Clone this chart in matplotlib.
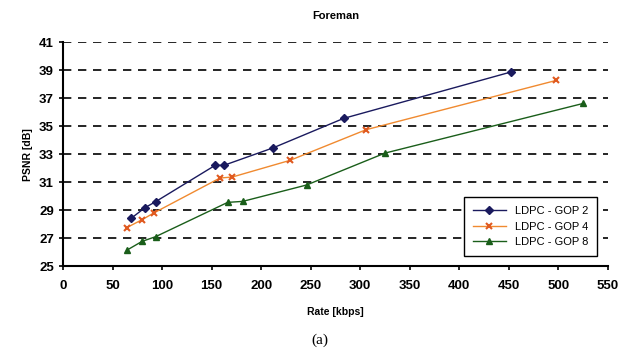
import matplotlib
matplotlib.use("Agg")
from matplotlib import pyplot as plt

# GOP 2
rate_gop2 = [68.6, 82.7, 93.5, 153.4, 162.5, 212.2, 283.2, 451.8]
psnr_gop2 = [28.40, 29.17, 29.60, 32.19, 32.20, 33.45, 35.55, 38.86]

# GOP 4
rate_gop4 = [64.2, 79.7, 92.1, 158.4, 170.8, 229.0, 305.8, 497.5]
psnr_gop4 = [27.74, 28.31, 28.81, 31.29, 31.36, 32.55, 34.74, 38.26]

# GOP 8
rate_gop8 = [64.6, 79.7, 93.5, 166.2, 181.3, 245.8, 324.9, 525.0]
psnr_gop8 = [26.14, 26.76, 27.10, 29.55, 29.62, 30.79, 33.07, 36.62]

labels = ["LDPC - GOP 2", "LDPC - GOP 4", "LDPC - GOP 8"]
x_ticks = list(range(0, 551, 50))
y_ticks = list(range(25, 42, 2))

plt.rcParams['font.family'] = ['Liberation Sans', 'DejaVu Sans']

fig = plt.figure(figsize=(6.33, 3.51), dpi=100)
ax = fig.add_axes([0.0995, 0.242, 0.861, 0.638])

ax.plot(rate_gop2, psnr_gop2, color='#1a1a5e', marker='D', markersize=4,
        linewidth=1, label=labels[0])
ax.plot(rate_gop4, psnr_gop4, color='#f08a30', marker='x', markersize=5,
        markeredgecolor='#e05a20', markeredgewidth=1.5, linewidth=1, label=labels[1])
ax.plot(rate_gop8, psnr_gop8, color='#1a5e1a', marker='^', markersize=5,
        linewidth=1, label=labels[2])

ax.set_xlim(0, 550)
ax.set_ylim(25, 41)
ax.set_xticks(x_ticks)
ax.set_yticks(y_ticks)
ax.tick_params(labelsize=9.5, length=3, width=1.2)
ax.tick_params(axis='x', pad=7)
for lab in ax.get_yticklabels() + ax.get_xticklabels():
    lab.set_fontweight('bold')

# dashed horizontal grid
ax.grid(True, axis='y', color='black', linestyle=(0, (5, 4)), linewidth=1.2)
ax.set_axisbelow(True)

for side in ['top', 'right']:
    ax.spines[side].set_visible(False)
ax.spines['left'].set_linewidth(1.5)
ax.spines['bottom'].set_linewidth(1.5)

ax.set_title('Foreman', fontsize=8, fontweight='bold', pad=17)
ax.set_xlabel('Rate [kbps]', fontsize=7.5, fontweight='bold', labelpad=11)
ax.set_ylabel('PSNR [dB]', fontsize=7.5, fontweight='bold', labelpad=4)

leg = ax.legend(loc='lower right', fontsize=8, frameon=True, fancybox=False,
                edgecolor='black', framealpha=1, borderpad=0.8,
                handlelength=3, bbox_to_anchor=(0.99, 0.02))
leg.get_frame().set_linewidth(1)

fig.text(0.505, 0.02, '(a)', ha='center', fontsize=11, family='Liberation Serif')

fig.savefig('out.png', dpi=100)
